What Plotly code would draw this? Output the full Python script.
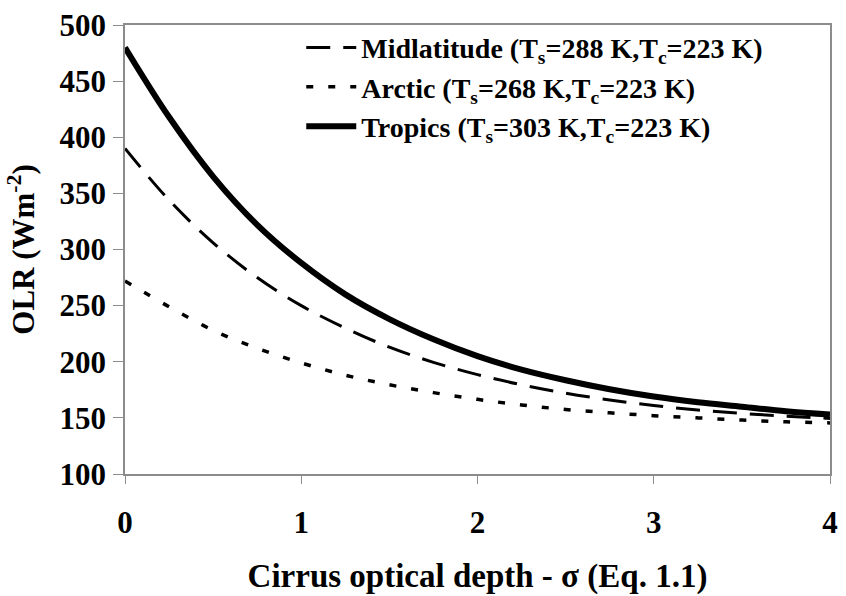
import plotly.graph_objects as go

# Cirrus optical depth (x) and outgoing longwave radiation (W m^-2) for three climates
optical_depth = [0, 0.25, 0.5, 0.75, 1.0, 1.25, 1.5, 1.75, 2.0, 2.25, 2.5, 2.75, 3.0, 3.25, 3.5, 3.75, 4.0]
olr_midlatitude = [390, 344, 306, 275, 250, 230, 213, 199.5, 188.5, 179.5, 172, 166, 161, 157, 154, 151.5, 149.5]
olr_arctic = [272, 249, 228, 212, 199, 188, 179.5, 172.5, 166.5, 161.5, 157.5, 154.5, 152, 150, 148, 146.5, 145.5]
olr_tropics = [480, 418, 365, 322, 288, 260, 238, 220, 205, 193, 183.5, 175.5, 169, 164, 160, 156, 153]

series_names = [
    "Midlatitude (T<sub>s</sub>=288 K,T<sub>c</sub>=223 K)",
    "Arctic (T<sub>s</sub>=268 K,T<sub>c</sub>=223 K)",
    "Tropics (T<sub>s</sub>=303 K,T<sub>c</sub>=223 K)",
]

x_ticks = [0, 1, 2, 3, 4]
y_ticks = [100, 150, 200, 250, 300, 350, 400, 450, 500]

FONT = "Times New Roman, Liberation Serif, Times, serif"
AXIS_GRAY = "#8c8c8c"


def serif(size):
    return dict(family=FONT, size=size, color="black", weight="bold")


fig = go.Figure()
fig.add_trace(go.Scatter(
    x=optical_depth, y=olr_midlatitude, name=series_names[0], mode="lines",
    line=dict(color="black", width=3, dash="24px,13px", shape="spline"),
))
fig.add_trace(go.Scatter(
    x=optical_depth, y=olr_arctic, name=series_names[1], mode="lines",
    line=dict(color="black", width=3.5, dash="7px,15px", shape="spline"),
))
fig.add_trace(go.Scatter(
    x=optical_depth, y=olr_tropics, name=series_names[2], mode="lines",
    line=dict(color="black", width=6, shape="spline"),
))

fig.update_layout(
    width=846, height=596,
    margin=dict(l=125, r=8, t=21, b=118),
    paper_bgcolor="white", plot_bgcolor="white",
    font=serif(28),
    showlegend=True,
    legend=dict(
        x=0.25, y=1.005, xanchor="left", yanchor="top",
        bgcolor="rgba(0,0,0,0)", borderwidth=0,
        font=serif(28),
        tracegroupgap=0, itemwidth=50,
    ),
    xaxis=dict(
        range=[0, 4], tickvals=x_ticks, ticktext=[str(v) for v in x_ticks],
        showgrid=False, zeroline=False,
        showline=True, linecolor=AXIS_GRAY, linewidth=1.5, mirror=True,
        ticks="outside", ticklen=8, tickcolor=AXIS_GRAY, tickwidth=1,
        tickfont=serif(31),
        ticklabelstandoff=12,
        title=dict(text="Cirrus optical depth - σ (Eq. 1.1)", font=serif(33), standoff=25),
    ),
    yaxis=dict(
        range=[100, 500], tickvals=y_ticks, ticktext=[str(v) for v in y_ticks],
        showgrid=False, zeroline=False,
        showline=True, linecolor=AXIS_GRAY, linewidth=1.5, mirror=True,
        ticks="outside", ticklen=10, tickcolor=AXIS_GRAY, tickwidth=1,
        tickfont=serif(31),
        ticklabelstandoff=1,
        title=dict(text="OLR (Wm<sup>-2</sup>)", font=serif(31), standoff=16),
    ),
)

fig.write_html("out.html")
